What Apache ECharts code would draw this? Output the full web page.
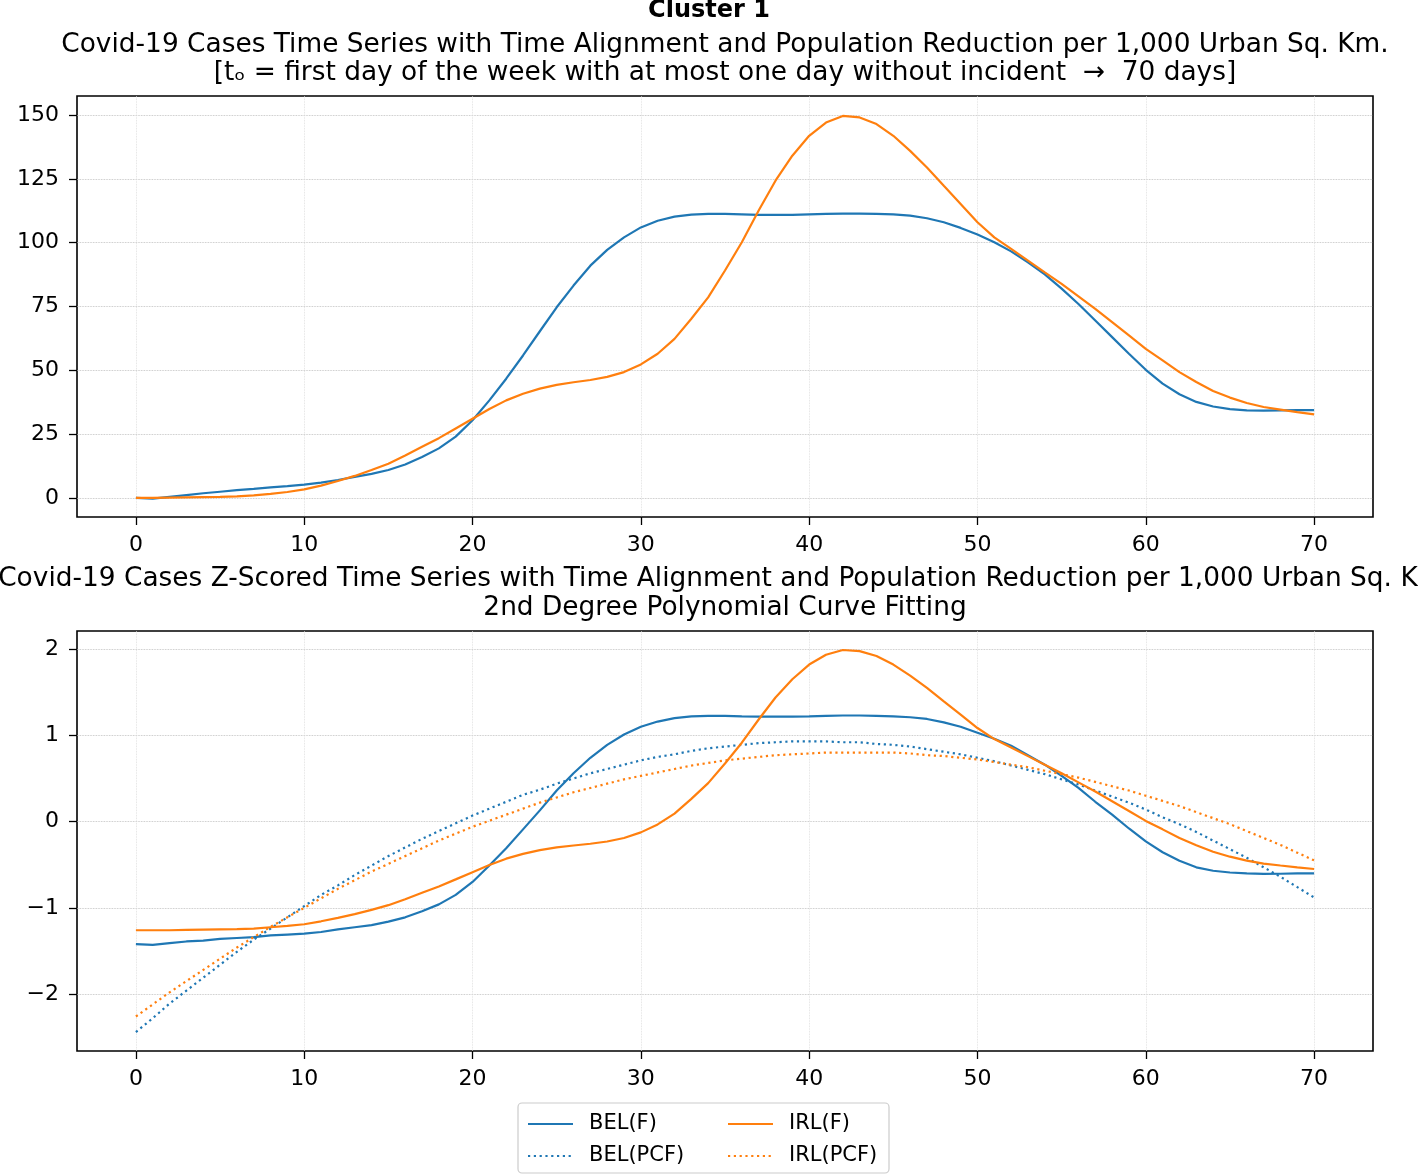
<!DOCTYPE html>
<html><head><meta charset="utf-8">
<script src="https://cdn.jsdelivr.net/npm/echarts@6/dist/echarts.min.js"></script>
<style>html,body{margin:0;padding:0;background:#fff}#c{width:1418px;height:1175px}</style>
</head><body><div id="c"></div>
<script>
// ---- data ----
const dayTicks = [0, 10, 20, 30, 40, 50, 60, 70];
const topYTicks = [0, 25, 50, 75, 100, 125, 150];
const botYTicks = [-2, -1, 0, 1, 2];

const belF = [0, -0.3, 0.4, 1.1, 1.8, 2.4, 3.0, 3.5, 4.1, 4.6, 5.2, 6.0, 7.0, 8.2, 9.4, 10.9, 13.1, 16.0, 19.4, 24.0,
  30.4, 38.2, 46.7, 55.8, 65.3, 74.7, 83.2, 91.0, 97.2, 102.1, 106.0, 108.6, 110.2, 111.0, 111.3, 111.3, 111.1, 110.9, 110.9, 110.9,
  111.1, 111.3, 111.4, 111.4, 111.3, 111.1, 110.6, 109.6, 108.0, 105.8, 103.2, 100.2, 96.6, 92.3, 87.6, 82.0, 76.0, 69.5, 63.0, 56.5,
  50.2, 44.8, 40.6, 37.6, 35.8, 34.8, 34.3, 34.2, 34.3, 34.4, 34.4];
const irlF = [0, 0, 0.1, 0.2, 0.3, 0.4, 0.6, 1.0, 1.6, 2.3, 3.3, 4.8, 6.6, 8.6, 10.9, 13.4, 16.6, 20.0, 23.4, 27.2,
  31.0, 34.8, 38.2, 40.8, 42.8, 44.3, 45.3, 46.2, 47.4, 49.3, 52.3, 56.5, 62.3, 70.2, 78.6, 89.1, 100.2, 112.6, 124.3, 134.1,
  141.9, 147.1, 149.7, 149.1, 146.5, 141.9, 136.0, 129.5, 122.3, 115.2, 108.0, 102.1, 97.6, 93.0, 88.4, 83.9, 79.0, 74.1, 68.9, 63.7,
  58.4, 53.9, 49.3, 45.4, 41.9, 39.3, 37.2, 35.6, 34.6, 33.6, 32.7];

const belZ = [-1.42, -1.43, -1.41, -1.39, -1.38, -1.36, -1.35, -1.34, -1.32, -1.31, -1.30, -1.28, -1.25, -1.225, -1.20, -1.16, -1.11, -1.04, -0.96, -0.85,
  -0.70, -0.51, -0.31, -0.09, 0.13, 0.36, 0.56, 0.74, 0.89, 1.01, 1.10, 1.16, 1.20, 1.22, 1.227, 1.227, 1.22, 1.217, 1.217, 1.217,
  1.22, 1.227, 1.23, 1.23, 1.227, 1.22, 1.21, 1.19, 1.15, 1.10, 1.03, 0.96, 0.88, 0.77, 0.66, 0.53, 0.39, 0.23, 0.08, -0.08,
  -0.23, -0.355, -0.455, -0.53, -0.57, -0.59, -0.60, -0.607, -0.605, -0.60, -0.60];
const belPCF = [-2.44, -2.28, -2.11, -1.96, -1.81, -1.66, -1.51, -1.37, -1.24, -1.11, -0.98, -0.85, -0.74, -0.62, -0.51, -0.40, -0.30, -0.20, -0.11, -0.02,
  0.07, 0.15, 0.23, 0.31, 0.37, 0.44, 0.50, 0.56, 0.61, 0.66, 0.71, 0.75, 0.78, 0.82, 0.85, 0.87, 0.89, 0.91, 0.92, 0.93,
  0.93, 0.93, 0.92, 0.92, 0.90, 0.89, 0.87, 0.84, 0.81, 0.78, 0.74, 0.70, 0.65, 0.60, 0.55, 0.49, 0.43, 0.36, 0.29, 0.22,
  0.14, 0.05, -0.03, -0.12, -0.22, -0.32, -0.42, -0.53, -0.64, -0.76, -0.88];
const irlZ = [-1.26, -1.26, -1.26, -1.256, -1.253, -1.25, -1.247, -1.24, -1.225, -1.21, -1.19, -1.156, -1.117, -1.073, -1.023, -0.969, -0.90, -0.826, -0.752, -0.67,
  -0.587, -0.504, -0.43, -0.374, -0.33, -0.298, -0.277, -0.257, -0.231, -0.19, -0.125, -0.033, 0.093, 0.264, 0.446, 0.674, 0.915, 1.184, 1.439, 1.651,
  1.821, 1.934, 1.99, 1.977, 1.92, 1.821, 1.693, 1.551, 1.395, 1.241, 1.085, 0.957, 0.859, 0.759, 0.659, 0.561, 0.455, 0.349, 0.236, 0.123,
  0.008, -0.09, -0.19, -0.274, -0.35, -0.407, -0.452, -0.487, -0.509, -0.53, -0.55];
const irlPCF = [-2.26, -2.12, -1.98, -1.85, -1.72, -1.59, -1.46, -1.34, -1.22, -1.11, -1.00, -0.89, -0.78, -0.68, -0.58, -0.49, -0.40, -0.31, -0.22, -0.14,
  -0.06, 0.01, 0.08, 0.15, 0.22, 0.28, 0.34, 0.39, 0.44, 0.49, 0.53, 0.57, 0.61, 0.65, 0.68, 0.71, 0.73, 0.75, 0.77, 0.78,
  0.79, 0.80, 0.80, 0.80, 0.80, 0.80, 0.79, 0.77, 0.76, 0.74, 0.72, 0.69, 0.66, 0.63, 0.59, 0.55, 0.51, 0.46, 0.41, 0.36,
  0.30, 0.24, 0.18, 0.11, 0.04, -0.03, -0.11, -0.19, -0.27, -0.36, -0.45];

const titleSup = 'Cluster 1';
const titleTop = 'Covid-19 Cases Time Series with Time Alignment and Population Reduction per 1,000 Urban Sq. Km.\n[tₒ = first day of the week with at most one day without incident  →  70 days]';
const titleBot = 'Covid-19 Cases Z-Scored Time Series with Time Alignment and Population Reduction per 1,000 Urban Sq. Km.\n2nd Degree Polynomial Curve Fitting';

// ---- chart ----
const BLUE = '#1f77b4', ORANGE = '#ff7f0e';
const FONT = 'DejaVu Sans';
const pairs = arr => arr.map((v, i) => [i, v]);
const fmtNum = v => (v < 0 ? '\u2212' + Math.abs(v) : String(v));

function xAxis(gi) {
  return {
    type: 'value', gridIndex: gi, min: -3.5, max: 73.5,
    axisLine: { show: false, onZero: false },
    axisTick: { show: true, length: 8, inside: false, customValues: dayTicks, lineStyle: { color: '#000', width: 1.3 } },
    axisLabel: { customValues: dayTicks, margin: 17, fontSize: 22, color: '#000', fontFamily: FONT },
    splitLine: { show: true, lineStyle: { color: '#dadada', type: 'dotted', width: 0.8 } }
  };
}
function yAxis(gi, min, max, ticks) {
  return {
    type: 'value', gridIndex: gi, min: min, max: max,
    axisLine: { show: false, onZero: false },
    axisTick: { show: true, length: 8, customValues: ticks, lineStyle: { color: '#000', width: 1.3 } },
    axisLabel: { customValues: ticks, margin: 18, fontSize: 22, color: '#000', fontFamily: FONT, formatter: fmtNum },
    splitLine: { show: true, lineStyle: { color: '#b8b8b8', type: 'dotted', width: 0.8 } }
  };
}
function line(name, data, gi, color, dotted) {
  return {
    name: name, type: 'line', xAxisIndex: gi, yAxisIndex: gi, data: pairs(data),
    symbol: 'none', smooth: false, silent: true,
    lineStyle: { color: color, width: 2.2, type: dotted ? [2.2, 3.6] : 'solid' },
    itemStyle: { color: color }
  };
}
const legendBase = {
  orient: 'vertical', top: 1113, padding: 0,
  itemWidth: 45, itemHeight: 14, itemGap: 10, selectedMode: false,
  itemStyle: { opacity: 0 },
  textStyle: { fontFamily: FONT, fontSize: 21, lineHeight: 22, color: '#000', padding: [0, 0, 0, 11] }
};

const chart = echarts.init(document.getElementById('c'), null, { renderer: 'canvas' });
chart.setOption({
  animation: false,
  backgroundColor: '#fff',
  title: [
    { text: titleSup, left: 709, top: -1, textAlign: 'center', padding: 0,
      textStyle: { fontFamily: FONT, fontWeight: 'bold', fontSize: 24, lineHeight: 24, color: '#000' } },
    { text: titleTop, left: 725, top: 31, textAlign: 'center', padding: 0,
      textStyle: { fontFamily: FONT, fontWeight: 'normal', fontSize: 26.4, lineHeight: 28, color: '#000' } },
    { text: titleBot, left: 725, top: 565, textAlign: 'center', padding: 0,
      textStyle: { fontFamily: FONT, fontWeight: 'normal', fontSize: 26.4, lineHeight: 29, color: '#000' } }
  ],
  grid: [
    { left: 77, top: 96, width: 1296, height: 421, show: true, borderColor: '#000', borderWidth: 1.6, backgroundColor: 'transparent' },
    { left: 77, top: 631, width: 1296, height: 420, show: true, borderColor: '#000', borderWidth: 1.6, backgroundColor: 'transparent' }
  ],
  xAxis: [xAxis(0), xAxis(1)],
  yAxis: [yAxis(0, -7.5, 157.5, topYTicks), yAxis(1, -2.66, 2.21, botYTicks)],
  legend: [
    Object.assign({}, legendBase, { data: ['BEL(F)', 'BEL(PCF)'], left: 527 }),
    Object.assign({}, legendBase, { data: ['IRL(F)', 'IRL(PCF)'], left: 727 })
  ],
  graphic: [
    { type: 'rect', z: -1, shape: { x: 518, y: 1103, width: 371, height: 70, r: 4 },
      style: { fill: 'rgba(255,255,255,0.8)', stroke: '#cccccc', lineWidth: 1.2 } }
  ],
  series: [
    line('BEL(F)', belF, 0, BLUE, false),
    line('IRL(F)', irlF, 0, ORANGE, false),
    line('BEL(F)', belZ, 1, BLUE, false),
    line('BEL(PCF)', belPCF, 1, BLUE, true),
    line('IRL(F)', irlZ, 1, ORANGE, false),
    line('IRL(PCF)', irlPCF, 1, ORANGE, true)
  ]
});
</script>
</body></html>
